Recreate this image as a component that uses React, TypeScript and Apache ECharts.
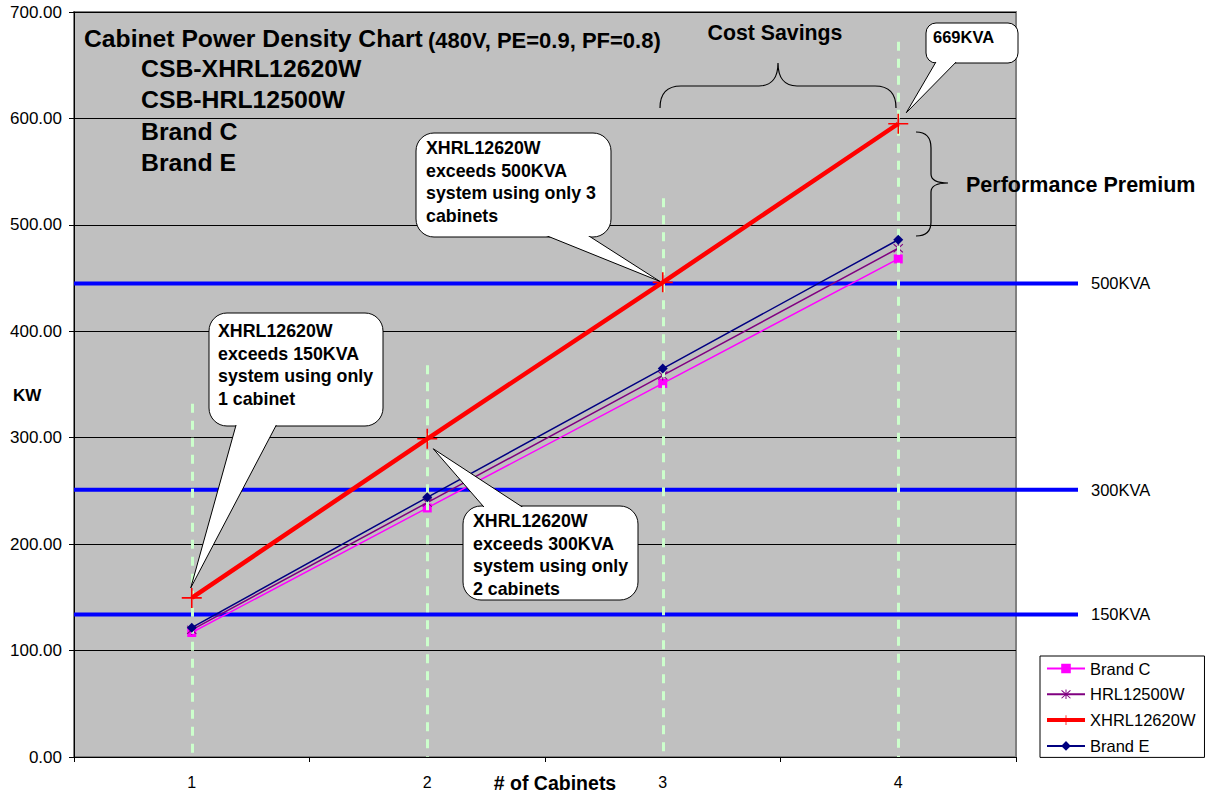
import React, { useEffect, useRef } from 'react';
import * as echarts from 'echarts';

// ---------- data ----------
const categories = ['1', '2', '3', '4'];
const brandC = [117, 234, 351, 468];
const hrl12500w = [119.5, 239, 358.5, 478];
const xhrl12620w = [149.5, 299, 446, 595];
const brandE = [121.5, 244, 365, 486];
const kvaNames = ['500KVA', '300KVA', '150KVA'];
const kvaValues = [445, 251, 134];
const dropTops = [332, 368, 525, 672];
const yMin = 0;
const yMax = 700;
const yInterval = 100;

const FONT = '"Liberation Sans", Arial, Helvetica, sans-serif';

// ---------- shapes ----------
echarts.graphic.registerShape(
  'braceH',
  echarts.graphic.extendPath(
    'M660,108 C660,94 666,86 681,86 L759,86 C772,86 778,77 778,63 C778,77 784,86 797,86 L875,86 C890,86 896,94 896,108',
    {}
  )
);
echarts.graphic.registerShape(
  'braceV',
  echarts.graphic.extendPath(
    'M916,132 C926,132 931,138 931,148 L931,174 C931,180 938,183 948,183 C938,183 931,186 931,192 L931,222 C931,231 926,236 916,236',
    {}
  )
);

const PLUS = 'path://M9.2,0 H10.8 V20 H9.2 Z M0,9.2 H20 V10.8 H0 Z';
const STAR =
  'path://M9.1,0 H10.9 V20 H9.1 Z M1.2,2.5 L2.5,1.2 L18.8,17.5 L17.5,18.8 Z M17.5,1.2 L18.8,2.5 L2.5,18.8 L1.2,17.5 Z';

// ---------- annotation layout ----------
const callouts = [
  {
    lines: ['XHRL12620W', 'exceeds 150KVA', 'system using only', '1 cabinet'],
    idx: 0, x: 209, y: 313, w: 174, h: 113, r: 18, side: 'bottom', t1: 238, t2: 280,
    off: [-1, -10], padX: 9, padY: 18, size: 17.8,
  },
  {
    lines: ['XHRL12620W', 'exceeds 300KVA', 'system using only', '2 cabinets'],
    idx: 1, x: 463, y: 506, w: 175, h: 94, r: 18, side: 'top', t1: 490, t2: 533,
    off: [6, 10], padX: 10, padY: 15, size: 17.8,
  },
  {
    lines: ['XHRL12620W', 'exceeds 500KVA', 'system using only 3', 'cabinets'],
    idx: 2, x: 416, y: 133, w: 195, h: 104, r: 18, side: 'bottom', t1: 530, t2: 578,
    off: [-3, -1], padX: 10, padY: 15, size: 17.8,
  },
  {
    lines: ['669KVA'],
    idx: 3, x: 926, y: 23, w: 92, h: 40, r: 10, side: 'bottom', t1: 940, t2: 963,
    off: [8, -11], padX: 7, padY: 14, size: 16.5,
  },
];

function txt(text: string, x: number, y: number, size: number, bold: boolean, align = 'left', va = 'middle') {
  return {
    type: 'text',
    z: 110,
    silent: true,
    style: {
      text,
      x,
      y,
      fill: '#000',
      font: `${bold ? 'bold ' : ''}${size}px ${FONT}`,
      align,
      textAlign: align,
      verticalAlign: va,
      textVerticalAlign: va,
    },
  };
}

export default function App() {
  const ref = useRef<HTMLDivElement>(null);
  useEffect(() => {
    const el = ref.current!;
    const chart = echarts.init(el, undefined, { renderer: 'svg' });

    const lineSeries = (name: string, data: number[], color: string, width: number, symbol: string, size: number, z: number) => ({
      name,
      type: 'line',
      data,
      xAxisIndex: 0,
      yAxisIndex: 0,
      symbol,
      symbolSize: size,
      showSymbol: true,
      z,
      lineStyle: { color, width },
      itemStyle: { color },
      emphasis: { disabled: true },
    });

    const option: any = {
      animation: false,
      textStyle: { fontFamily: FONT },
      grid: [
        {
          left: 74,
          top: 12,
          width: 942,
          height: 745,
          show: true,
          backgroundColor: '#c0c0c0',
          borderColor: '#808080',
          borderWidth: 2,
        },
        // wider invisible grid for the KVA reference lines that run past the plot
        { left: 74, top: 12, width: 1004, height: 745, show: false },
      ],
      legend: {
        orient: 'vertical',
        left: 1040,
        top: 656,
        data: [
          { name: 'Brand C' },
          { name: 'HRL12500W' },
          { name: 'XHRL12620W', lineStyle: { width: 4 } },
          { name: 'Brand E' },
        ],
        backgroundColor: '#fff',
        borderColor: '#000',
        borderWidth: 1,
        borderRadius: 0,
        padding: [4, 9, 3, 5],
        itemWidth: 38,
        itemHeight: 12,
        itemGap: 8.8,
        textStyle: { fontSize: 16.5, color: '#000', fontFamily: FONT },
        selectedMode: false,
      },
      xAxis: [
        {
          type: 'category',
          gridIndex: 0,
          data: categories,
          boundaryGap: true,
          axisLine: { lineStyle: { color: '#000', width: 1 } },
          axisTick: { show: true, length: 5, lineStyle: { color: '#000' } },
          axisLabel: { color: '#000', fontSize: 16, margin: 17, fontFamily: FONT },
          splitLine: { show: false },
        },
        { type: 'value', gridIndex: 1, min: 0, max: 1, show: false },
      ],
      yAxis: [
        {
          type: 'value',
          gridIndex: 0,
          min: yMin,
          max: yMax,
          interval: yInterval,
          axisLine: { show: true, lineStyle: { color: '#000', width: 1 } },
          axisTick: { show: true, length: 5, lineStyle: { color: '#000' } },
          axisLabel: {
            color: '#000',
            fontSize: 17,
            margin: 12,
            fontFamily: FONT,
            formatter: (v: number) => v.toFixed(2),
          },
          splitLine: { show: true, lineStyle: { color: '#000', width: 1 } },
        },
        { type: 'value', gridIndex: 1, min: yMin, max: yMax, interval: yInterval, show: false },
      ],
      series: [
        // drop lines
        {
          name: 'drops',
          type: 'line',
          data: [],
          z: 1,
          silent: true,
          markLine: {
            silent: true,
            symbol: ['none', 'none'],
            label: { show: false },
            lineStyle: { color: '#ccffcc', width: 3, type: [9, 8] },
            emphasis: { disabled: true },
            data: categories.map((c, i) => [
              { coord: [c, dropTops[i]] },
              { coord: [c, yMin] },
            ]),
          },
        },
        // KVA level lines
        ...kvaNames.map((n, i) => ({
          name: n,
          type: 'line',
          xAxisIndex: 1,
          yAxisIndex: 1,
          data: [
            [0, kvaValues[i]],
            [1, kvaValues[i]],
          ],
          symbol: 'none',
          z: 2,
          silent: true,
          lineStyle: { color: '#0000ff', width: 4 },
          endLabel: {
            show: true,
            formatter: n,
            color: '#000',
            fontSize: 16.5,
            fontFamily: FONT,
            distance: 13,
          },
          emphasis: { disabled: true },
        })),
        lineSeries('Brand C', brandC, '#ff00ff', 1.5, 'rect', 9, 3),
        lineSeries('HRL12500W', hrl12500w, '#800080', 1.5, STAR, 10, 4),
        lineSeries('XHRL12620W', xhrl12620w, '#ff0000', 4.5, PLUS, 20, 5),
        lineSeries('Brand E', brandE, '#000080', 1.5, 'diamond', 10, 6),
      ],
    };
    chart.setOption(option);

    // annotations anchored to XHRL12620W points
    const g: any[] = [];
    callouts.forEach((c) => {
      const p = chart.convertToPixel({ xAxisIndex: 0, yAxisIndex: 0 }, [c.idx, xhrl12620w[c.idx]]) as number[];
      const tip = [p[0] + c.off[0], p[1] + c.off[1]];
      const by = c.side === 'bottom' ? c.y + c.h - 8 : c.y + 8;
      g.push({
        type: 'rect',
        z: 100,
        silent: true,
        shape: { x: c.x, y: c.y, width: c.w, height: c.h, r: c.r },
        style: { fill: '#fff', stroke: '#000', lineWidth: 1 },
      });
      g.push({
        type: 'polygon',
        z: 101,
        silent: true,
        shape: { points: [[c.t1, by], tip, [c.t2, by]] },
        style: { fill: '#fff', stroke: '#000', lineWidth: 1 },
      });
      g.push({
        type: 'rect',
        z: 102,
        silent: true,
        shape: { x: c.x + 1, y: c.y + 1, width: c.w - 2, height: c.h - 2, r: c.r - 1 },
        style: { fill: '#fff' },
      });
      const t: any = txt(c.lines.join('\n'), c.x + c.padX, c.y + c.padY - 11.25, c.size, true, 'left', 'top');
      t.style.lineHeight = 22.5;
      g.push(t);
    });

    g.push({
      type: 'braceH',
      z: 105,
      silent: true,
      style: { fill: 'none', stroke: '#000', lineWidth: 1.2 },
    });
    g.push({
      type: 'braceV',
      z: 105,
      silent: true,
      style: { fill: 'none', stroke: '#000', lineWidth: 1.2 },
    });

    g.push(txt('Cabinet Power Density Chart', 84, 38, 24.7, true));
    g.push(txt('(480V, PE=0.9, PF=0.8)', 428, 40, 22, true));
    g.push(txt('CSB-XHRL12620W', 141, 68, 24.8, true));
    g.push(txt('CSB-HRL12500W', 141, 99, 24.8, true));
    g.push(txt('Brand C', 141, 131, 24.8, true));
    g.push(txt('Brand E', 141, 162, 24.8, true));
    g.push(txt('Cost Savings', 775, 33, 21.3, true, 'center'));
    g.push(txt('Performance Premium', 966, 185, 21.5, true));
    g.push(txt('KW', 13, 395, 17, true));
    g.push(txt('# of Cabinets', 555, 783, 19.5, true, 'center'));

    chart.setOption({ graphic: g });

    return () => chart.dispose();
  }, []);
  return (
    <div
      ref={ref}
      style={{ position: 'fixed', left: 0, top: 0, width: 1205, height: 796, background: '#fff' }}
    />
  );
}
